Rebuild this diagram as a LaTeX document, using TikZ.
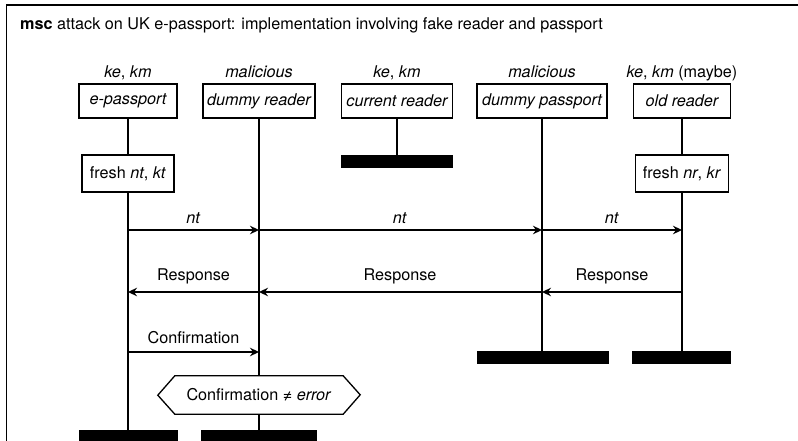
\documentclass[tikz,border=0pt]{standalone}
\usepackage{fontspec}
\setmainfont{TeX Gyre Heros}
\usetikzlibrary{arrows.meta}
\begin{document}
\begin{tikzpicture}[x=1pt,y=-1pt,
  font=\fontsize{16.2}{19}\selectfont,
  inst/.style={draw, line width=1.3pt, minimum height=34pt, inner sep=0pt, font=\fontsize{16.2}{19}\selectfont\itshape},
  act/.style={draw, line width=1.3pt, minimum height=37pt, inner sep=0pt},
  life/.style={line width=1.8pt},
  stopbar/.style={fill=black, draw=none, inner sep=0pt, minimum height=13pt},
  msg/.style={line width=1.3pt, -{Stealth[length=9pt,width=8.5pt,inset=3pt]}},
  lbl/.style={anchor=base, inner sep=0pt},
]
\useasboundingbox (0,0) rectangle (798,441);
\clip (0,0) rectangle (798,441);
% diagram frame (continues past the page edge)
\draw[line width=1.8pt] (6.5,460) -- (6.5,5) -- (820,5);
\node[lbl, anchor=base west] (title) at (20,29.5) {\textbf{msc} attack on UK e-passport: implementation involving fake reader and passport};

% instance heads
\node[inst, minimum width=98pt]  (ep) at (128,101) {e-passport};
\node[inst, minimum width=112pt] (dr) at (259,101) {dummy reader};
\node[inst, minimum width=111pt] (cr) at (397,101) {current reader};
\node[inst, minimum width=130pt] (dp) at (542,101) {dummy passport};
\node[inst, minimum width=97pt]  (or) at (682,101) {old reader};

% annotations above the heads
\node[lbl] (ep-k) at (128,78) {\textit{ke}, \textit{km}};
\node[lbl] (dr-k) at (259,78) {\textit{malicious}};
\node[lbl] (cr-k) at (397,78) {\textit{ke}, \textit{km}};
\node[lbl] (dp-k) at (542,78) {\textit{malicious}};
\node[lbl] (or-k) at (682,78) {\textit{ke}, \textit{km} (maybe)};

% local actions
\node[act, minimum width=92pt] (ft) at (128,173.5) {fresh \textit{nt}, \textit{kt}};
\node[act, minimum width=93pt] (fr) at (682,173.5) {fresh \textit{nr}, \textit{kr}};

% condition
\node[inner sep=0pt, minimum width=168pt, minimum height=38pt] (chk) at (259,395) {Confirmation ≠ \textit{error}};
\draw[line width=1.3pt] (chk.north west) -- (chk.north east) -- ++(17,19) -- (chk.south east)
  -- (chk.south west) -- ++(-17,-19) -- cycle;

% instance ends
\node[stopbar, minimum width=99pt]  (ep-end) at (128.5,436.5) {};
\node[stopbar, minimum width=116pt] (dr-end) at (259,436.5)   {};
\node[stopbar, minimum width=112pt] (cr-end) at (397,161.5)   {};
\node[stopbar, minimum width=132pt] (dp-end) at (543,357.5)   {};
\node[stopbar, minimum width=99pt]  (or-end) at (681.5,357.5) {};

% lifelines
\draw[life] (ep.south) -- (ft.north);
\draw[life] (ft.south) -- (ep-end.north -| ft.south);
\draw[life] (dr.south) -- (chk.north -| dr.south);
\draw[life] (chk.south -| dr.south) -- (dr-end.north -| dr.south);
\draw[life] (cr.south) -- (cr-end.north -| cr.south);
\draw[life] (dp.south) -- (dp-end.north -| dp.south);
\draw[life] (or.south) -- (fr.north);
\draw[life] (fr.south) -- (or-end.north -| fr.south);

% message points on the lifelines
\foreach \n/\y in {nt/230, re/292, co/352} {
  \coordinate (ep-\n) at (ep.south |- 0,\y);
  \coordinate (dr-\n) at (dr.south |- 0,\y);
  \coordinate (dp-\n) at (dp.south |- 0,\y);
  \coordinate (or-\n) at (or.south |- 0,\y);
}

% messages
\draw[msg] (ep-nt) -- (dr-nt);
\draw[msg] (dr-nt) -- (dp-nt);
\draw[msg] (dp-nt) -- (or-nt);
\draw[msg] (or-re) -- (dp-re);
\draw[msg] (dp-re) -- (dr-re);
\draw[msg] (dr-re) -- (ep-re);
\draw[msg] (ep-co) -- (dr-co);

% message labels
\node[lbl] (m1) at (193.5,223) {\textit{nt}};
\node[lbl] (m2) at (400,223)   {\textit{nt}};
\node[lbl] (m3) at (612,223)   {\textit{nt}};
\node[lbl] (m4) at (612,280)   {Response};
\node[lbl] (m5) at (400,280)   {Response};
\node[lbl] (m6) at (193.5,280) {Response};
\node[lbl] (m7) at (193.5,343) {Confirmation};
\end{tikzpicture}
\end{document}
